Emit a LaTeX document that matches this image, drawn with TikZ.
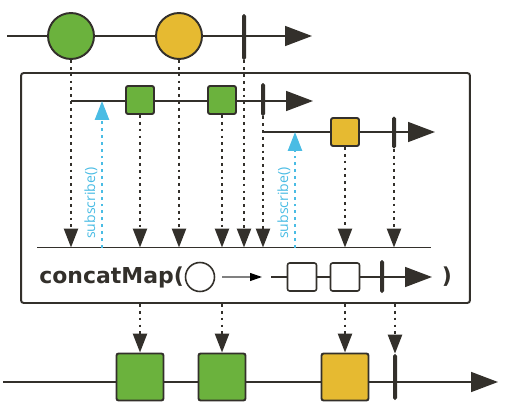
\documentclass[tikz,border=0pt]{standalone}
\usepackage{fontspec}
\setmainfont{DejaVu Sans}
\newfontfamily\subfont{Open Sans}
\usetikzlibrary{positioning,arrows.meta}
\definecolor{rxgreen}{HTML}{6BB23D}
\definecolor{rxyellow}{HTML}{E6BA31}
\definecolor{rxdark}{HTML}{33302B}
\definecolor{rxblue}{HTML}{4ABCE4}
\tikzset{
  wire/.style   = {line width=1pt, draw=rxdark},
  time/.style   = {wire, -{Triangle[length=15.3pt,width=11.3pt]}},
  dwire/.style  = {line width=1.3pt, draw=rxdark, dash pattern=on 1.6pt off 2.3pt,
                   -{Triangle[length=10.8pt,width=8pt]}},
  swire/.style  = {line width=1.3pt, draw=rxblue, dash pattern=on 1.6pt off 2.3pt,
                   -{Triangle[length=10.8pt,width=8pt]}},
  ball/.style   = {circle, draw=rxdark, line width=1.1pt, minimum size=0.92cm,
                   inner sep=0pt},
  sq/.style     = {draw=rxdark, line width=1.1pt, rounded corners=1.2pt,
                   minimum size=0.56cm, inner sep=0pt},
  bsq/.style    = {sq, minimum size=0.94cm},
  bar/.style    = {fill=rxdark, rounded corners=1pt, minimum width=0.08cm,
                   inner sep=0pt},
  frame/.style  = {draw=rxdark, line width=1.1pt, rounded corners=1.5pt,
                   inner sep=0pt},
  sublbl/.style = {rotate=90, text=rxblue, font=\subfont\fontsize{8}{9}\selectfont,
                   inner sep=0pt},
  oplbl/.style  = {font=\bfseries\fontsize{12.5}{14}\selectfont, text=rxdark,
                   inner sep=0pt},
}

\begin{document}
\begin{tikzpicture}[x=0.02cm,y=-0.02cm]
  \useasboundingbox (0,0) rectangle (517,409);
  % source stream
  \coordinate (t0) at (7,36);
  \coordinate (t1) at (312,36);
  \draw[time] (t0) -- (t1);
  \node[ball, fill=rxgreen] (a) at (71,36) {};
  \node[ball, fill=rxyellow] (b) at (179,36) {};
  \node[bar, minimum height=0.92cm] (ab) at (244,37) {};
  % operator frame
  \node[frame, minimum width=8.98cm, minimum height=4.6cm] (box) at (245.5,188) {};
  % inner stream of a
  \coordinate (p0) at (a |- 0,101);
  \coordinate (p1) at (313,101);
  \draw[time] (p0) -- (p1);
  \node[sq, fill=rxgreen] (a1) at (140,100) {};
  \node[sq, fill=rxgreen] (a2) at (222,100) {};
  \node[bar, minimum height=0.66cm] (pb) at (263,99.5) {};
  % inner stream of b
  \coordinate (q0) at (pb |- 0,132);
  \coordinate (q1) at (435,132);
  \draw[time] (q0) -- (q1);
  \node[sq, fill=rxyellow] (b1) at (345,132) {};
  \node[bar, minimum height=0.64cm] (qb) at (394,132.5) {};
  % merged line
  \coordinate (m0) at (37,247.5);
  \coordinate (m1) at (431,247.5);
  \draw[wire, line width=1.1pt] (m0) -- (m1);
  \foreach \n in {a,b,ab,a1,a2,pb,b1,qb}
    \draw[dwire] (\n.south) -- (\n.south |- m0);
  % subscriptions
  \coordinate (u1) at (102,247.5);
  \coordinate (u2) at (295,247.5);
  \draw[swire] (u1) -- (u1 |- p0);
  \draw[swire] (u2) -- (u2 |- q0);
  \node[sublbl] (s1) at (91,203) {subscribe()};
  \node[sublbl] (s2) at (284,203) {subscribe()};
  % operator
  \node[oplbl, anchor=west] (op) at (39,277) {concatMap(};
  \node[ball, fill=white, minimum size=0.58cm, line width=0.9pt] (x) at (200,277) {};
  \coordinate (x0) at (222,277);
  \coordinate (x1) at (262,277);
  \draw[line width=0.7pt, draw=gray, -{Triangle[length=6.8pt,width=4.5pt,color=black]}] (x0) -- (x1);
  \coordinate (r0) at (271,277);
  \coordinate (r1) at (432,277);
  \draw[time] (r0) -- (r1);
  \node[sq, fill=white, line width=0.9pt, minimum width=0.58cm] (y1) at (302,277) {};
  \node[sq, fill=white, line width=0.9pt, minimum width=0.58cm] (y2) at (345,277) {};
  \node[bar, minimum height=0.66cm] (yb) at (382,276.5) {};
  \node[oplbl] (cl) at (447,277) {)};
  % result stream
  \coordinate (o0) at (3,382);
  \coordinate (o1) at (498,382);
  \draw[time] (o0) -- (o1);
  \node[bsq, fill=rxgreen] (c1) at (140,377) {};
  \node[bsq, fill=rxgreen] (c2) at (222,377) {};
  \node[bsq, fill=rxyellow] (c3) at (345,377) {};
  \node[bar, minimum height=0.92cm] (cb) at (395,377) {};
  \foreach \n in {c1,c2,c3,cb}
    \draw[dwire] (\n.north |- box.south) -- (\n.north);
\end{tikzpicture}
\end{document}
